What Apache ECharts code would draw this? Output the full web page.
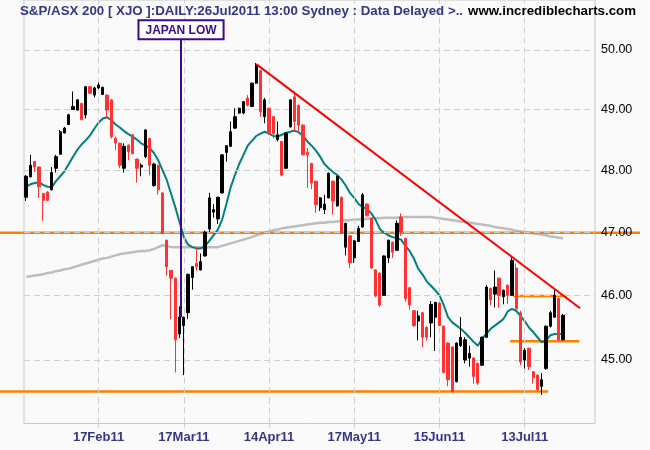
<!DOCTYPE html>
<html><head><meta charset="utf-8">
<script src="https://cdn.jsdelivr.net/npm/echarts@6/dist/echarts.min.js"></script>
<style>html,body{margin:0;padding:0;background:#fafafa}#c{width:650px;height:450px}</style>
</head><body><div id="c"></div>
<script>
// ---- data (values in points/100) ----
const tickIdx = [17, 37, 57, 77, 97, 117];
const tickLabels = ['17Feb11', '17Mar11', '14Apr11', '17May11', '15Jun11', '13Jul11'];
const priceTicks = [45, 46, 47, 48, 49, 50];

const opens = [47.56,47.89,48.14,48.05,47.62,47.64,47.68,48.03,48.26,48.61,
48.75,49.00,48.99,49.10,48.91,49.38,49.24,49.36,49.25,49.24,
49.16,48.52,48.44,48.03,48.41,48.58,48.18,48.05,48.22,48.52,
47.75,48.08,47.63,46.87,46.39,46.27,45.40,45.53,45.73,46.28,
46.50,46.40,46.62,47.05,47.32,47.21,47.63,48.29,48.39,48.69,
48.94,48.94,49.19,49.05,49.44,49.65,48.88,49.02,48.88,48.50,
48.47,48.03,48.71,49.21,49.07,48.74,48.29,48.11,47.82,47.39,
47.36,47.55,47.82,47.42,47.56,46.76,46.94,46.59,46.85,47.08,
47.45,47.22,46.40,46.35,46.00,46.59,46.84,46.71,47.24,46.90,
46.12,45.76,45.60,45.73,45.50,45.57,45.66,45.88,45.52,45.26,
45.20,44.67,45.22,45.00,45.03,45.03,44.95,44.92,45.35,46.11,
46.02,46.27,45.98,46.16,46.00,46.43,45.73,45.00,45.18,44.82,
44.77,44.60,44.87,45.52,45.66,45.95,45.31];
const closes = [47.90,48.08,48.05,47.73,47.51,47.51,47.96,48.22,48.63,48.69,
48.91,49.05,49.16,48.83,49.38,49.27,49.36,49.41,49.37,48.99,
48.55,48.45,48.08,48.39,48.30,48.27,48.03,48.08,48.66,48.08,
48.10,47.68,46.98,46.45,46.27,45.31,45.66,45.66,46.33,46.45,
46.45,46.53,47.00,47.55,47.36,47.56,48.25,48.40,48.63,48.88,
49.02,49.13,49.07,49.44,49.75,48.96,49.16,48.60,48.60,48.58,
47.92,48.61,49.16,48.80,48.74,48.25,48.25,47.79,47.44,47.55,
47.45,47.95,47.50,47.90,46.98,47.14,46.51,46.86,47.06,47.60,
47.26,46.43,45.99,45.85,46.62,46.87,46.68,47.14,47.00,45.95,
45.85,45.53,45.68,45.35,45.35,45.86,45.89,45.53,44.81,44.70,
44.52,45.26,45.35,45.31,45.10,44.75,44.65,45.35,46.13,45.93,
46.13,46.00,46.08,46.00,46.55,45.79,44.97,45.15,44.90,44.73,
44.55,44.70,45.52,45.73,46.00,45.31,45.69];
const lows = [47.50,47.88,47.97,47.55,47.18,47.50,47.67,47.96,48.26,48.60,
48.74,49.00,48.98,48.82,48.85,49.26,49.20,49.34,49.24,48.85,
48.52,48.33,48.03,47.96,48.16,48.26,47.80,47.90,48.20,47.92,
47.73,47.60,46.97,46.31,45.63,44.81,45.34,44.77,45.63,46.09,
46.39,46.39,46.61,47.00,47.23,47.13,47.62,48.14,48.38,48.68,
48.93,48.92,49.05,49.04,49.43,48.88,48.77,48.58,48.52,48.47,
47.90,48.02,48.70,48.63,48.63,48.24,47.71,47.69,47.31,47.34,
47.29,47.54,47.28,47.41,46.97,46.63,46.43,46.51,46.84,47.07,
47.25,46.42,45.97,45.82,45.99,46.51,46.59,46.70,46.94,45.90,
45.78,45.51,45.30,45.20,45.30,45.35,45.14,45.52,44.80,44.60,
44.51,44.66,45.20,44.95,44.90,44.64,44.62,44.91,45.34,45.85,
45.81,45.81,45.86,45.87,45.99,45.78,44.92,44.87,44.85,44.64,
44.52,44.47,44.85,45.50,45.65,45.29,45.30];
const highs = [47.92,48.25,48.15,48.06,47.63,47.66,48.05,48.25,48.66,48.71,
48.93,49.30,49.17,49.11,49.39,49.39,49.38,49.45,49.38,49.25,
49.17,48.55,48.45,48.44,48.42,48.59,48.19,48.11,48.67,48.53,
48.12,48.09,47.64,46.88,46.40,46.28,45.83,45.67,46.34,46.46,
46.76,46.66,47.02,47.63,47.45,47.57,48.26,48.41,48.80,49.02,
49.03,49.14,49.24,49.45,49.78,49.66,49.19,49.03,48.89,48.80,
48.48,48.62,49.17,49.30,49.08,48.75,48.36,48.12,47.83,47.56,
47.60,47.96,47.83,47.91,47.57,47.15,46.95,46.87,47.10,47.63,
47.46,47.23,46.41,46.36,46.63,46.88,46.85,47.19,47.30,46.91,
46.13,45.77,45.76,45.74,45.52,45.91,45.90,45.89,45.53,45.27,
45.21,45.27,45.66,45.35,45.22,45.04,44.96,45.36,46.16,46.12,
46.39,46.28,46.09,46.17,46.60,46.50,45.76,45.18,45.19,44.83,
44.78,44.80,45.53,45.76,46.11,45.97,45.71];
const maShort = [47.73,47.77,47.79,47.80,47.76,47.73,47.72,47.82,47.90,47.98,
48.10,48.22,48.33,48.42,48.49,48.57,48.68,48.78,48.85,48.87,
48.82,48.75,48.70,48.64,48.59,48.55,48.50,48.44,48.40,48.36,
48.28,48.16,48.00,47.84,47.62,47.40,47.16,46.92,46.80,46.76,
46.74,46.74,46.78,46.86,46.95,47.04,47.20,47.45,47.72,47.92,
48.10,48.25,48.40,48.48,48.56,48.60,48.63,48.60,48.56,48.55,
48.58,48.61,48.63,48.65,48.62,48.56,48.47,48.40,48.32,48.22,
48.10,48.03,47.97,47.92,47.85,47.75,47.63,47.55,47.45,47.40,
47.37,47.30,47.20,47.05,46.99,46.95,46.92,46.90,46.88,46.78,
46.70,46.58,46.42,46.33,46.22,46.15,46.08,46.00,45.85,45.66,
45.58,45.53,45.48,45.42,45.35,45.28,45.22,45.33,45.40,45.48,
45.53,45.58,45.63,45.75,45.79,45.76,45.68,45.60,45.50,45.43,
45.35,45.27,45.30,45.38,45.40,45.40,45.40];
const maLong = [46.29,46.30,46.31,46.32,46.33,46.35,46.36,46.38,46.39,46.41,
46.42,46.44,46.46,46.48,46.50,46.52,46.54,46.56,46.58,46.59,
46.61,46.63,46.65,46.66,46.67,46.68,46.69,46.70,46.70,46.71,
46.73,46.76,46.79,46.78,46.76,46.76,46.76,46.76,46.76,46.76,
46.76,46.76,46.76,46.76,46.76,46.76,46.78,46.80,46.82,46.84,
46.86,46.88,46.90,46.92,46.95,46.97,46.99,47.01,47.03,47.04,
47.06,47.07,47.08,47.09,47.10,47.11,47.12,47.13,47.14,47.15,
47.15,47.16,47.16,47.17,47.18,47.19,47.19,47.20,47.20,47.21,
47.21,47.22,47.22,47.22,47.23,47.23,47.23,47.23,47.24,47.24,
47.24,47.24,47.24,47.24,47.24,47.24,47.23,47.22,47.21,47.20,
47.19,47.18,47.17,47.16,47.15,47.14,47.13,47.12,47.11,47.10,
47.08,47.07,47.06,47.05,47.04,47.02,47.01,47.00,46.99,46.98,
46.97,46.96,46.95,46.93,46.92,46.91,46.90];
// drawn annotations: [day index, price]
const trendLine = [[54, 49.76], [130, 45.80]];
const resistance47 = 46.99;
const supportLow = [[null, 44.52], [122.5, 44.52]];
const level46 = [[114.3, 45.99], [126.9, 45.99]];
const level453 = [[113.6, 45.29], [129.8, 45.29]];
const japanLow = [[36.35, 45.66], [36.35, 50.20]];

// ---- layout ----
const nBands = 134;               // trading-day slots on the axis
const plotL = 24, plotR = 595, gridR = 640;
const band = (plotR - plotL) / nBands;
const xMin = -0.5 - plotL / band;
const xMax = nBands - 0.5 + (gridR - plotR) / band;
const yMin = 44.04, yMax = 50.857;

const candleData = opens.map((o, i) => [i, o, closes[i], lows[i], highs[i]]);
const toXY = arr => arr.map((v, i) => [i, v]);
const FONT = '"Liberation Sans", Arial, sans-serif';

const gridLines = [];
tickIdx.forEach(t => gridLines.push({xAxis: t, label: {show: false}}));
priceTicks.forEach(p => gridLines.push([
  {coord: [-0.5, p], label: {show: true, position: 'end', distance: 6, formatter: p.toFixed(2),
    color: '#000', fontSize: 12.5, fontFamily: FONT}},
  {coord: [nBands - 0.5, p]}
]));

const chart = echarts.init(document.getElementById('c'), null, {renderer: 'canvas'});
chart.setOption({
  animation: false,
  backgroundColor: '#fafafa',
  title: {
    left: 20, top: 2, padding: 0,
    text: '{a|S&P/ASX 200 [ XJO ]:DAILY:26Jul2011 13:00 Sydney : Data Delayed >..} {b|www.incrediblecharts.com}',
    textStyle: {rich: {
      a: {color: '#353585', fontWeight: 'bold', fontSize: 13.3, fontFamily: FONT},
      b: {color: '#000', fontWeight: 'bold', fontSize: 13.3, fontFamily: FONT}
    }}
  },
  grid: {left: 0, right: 650 - gridR, top: 0, bottom: 26.5},
  xAxis: {
    type: 'value', min: xMin, max: xMax,
    axisLine: {show: false}, splitLine: {show: false},
    axisTick: {show: true, customValues: tickIdx, length: 6, lineStyle: {color: '#cccccc', type: [4, 3]}},
    axisLabel: {customValues: tickIdx, margin: 7, color: '#353585', fontWeight: 'bold', fontSize: 13, fontFamily: FONT,
      formatter: v => tickLabels[tickIdx.indexOf(Math.round(v))]}
  },
  yAxis: {type: 'log', min: yMin, max: yMax, show: false},
  series: [
    {
      type: 'line', data: [], z: 1, silent: true,
      markArea: {silent: true, itemStyle: {color: 'rgba(0,0,0,0)', borderColor: '#c8c8c8', borderWidth: 1},
        data: [[{coord: [-0.5, yMin]}, {coord: [nBands - 0.5, yMax]}]]},
      markLine: {silent: true, symbol: ['none', 'none'], animation: false,
        lineStyle: {color: '#cfcfcf', width: 1, type: [6, 4]}, data: gridLines}
    },
    {type: 'line', data: toXY(maLong), z: 2, symbol: 'none', silent: true,
      lineStyle: {color: '#bdbdbd', width: 2.5}},
    {type: 'line', data: [[xMin, resistance47], [xMax, resistance47]], z: 3, symbol: 'none', silent: true,
      lineStyle: {color: '#ff8000', width: 2.5}},
    {type: 'line', data: supportLow.map(p => [p[0] == null ? xMin : p[0], p[1]]), z: 3, symbol: 'none', silent: true,
      lineStyle: {color: '#ff8000', width: 2.5}},
    {type: 'line', data: level46, z: 3, symbol: 'none', silent: true, lineStyle: {color: '#ff8000', width: 2.5}},
    {type: 'line', data: level453, z: 3, symbol: 'none', silent: true, lineStyle: {color: '#ff8000', width: 2.5}},
    {type: 'line', data: toXY(maShort), z: 4, symbol: 'none', silent: true,
      lineStyle: {color: '#008080', width: 2}},
    {
      type: 'candlestick', data: candleData, z: 5, silent: true,
      encode: {x: 0, y: [1, 2, 3, 4]},
      barWidth: 2.8,
      itemStyle: {color: '#000000', color0: '#ff3333', borderColor: '#000000', borderColor0: '#ff3333', borderWidth: 1}
    },
    {type: 'line', data: trendLine, z: 6, symbol: 'none', silent: true, lineStyle: {color: '#ff0000', width: 2}},
    {
      type: 'line', data: [], z: 7, silent: true,
      markLine: {silent: true, symbol: ['none', 'none'], animation: false,
        data: [[
          {coord: japanLow[0], lineStyle: {color: '#3d0a8a', width: 2, type: 'solid'},
            label: {show: true, position: 'end', distance: 0, formatter: 'JAPAN LOW', color: '#3d0a8a',
              fontWeight: 'bold', fontSize: 12, fontFamily: FONT, backgroundColor: '#ffffff',
              borderColor: '#3d0a8a', borderWidth: 2, padding: [3, 6, 2, 6]}},
          {coord: japanLow[1]}
        ]]}
    }
  ]
});
</script></body></html>
